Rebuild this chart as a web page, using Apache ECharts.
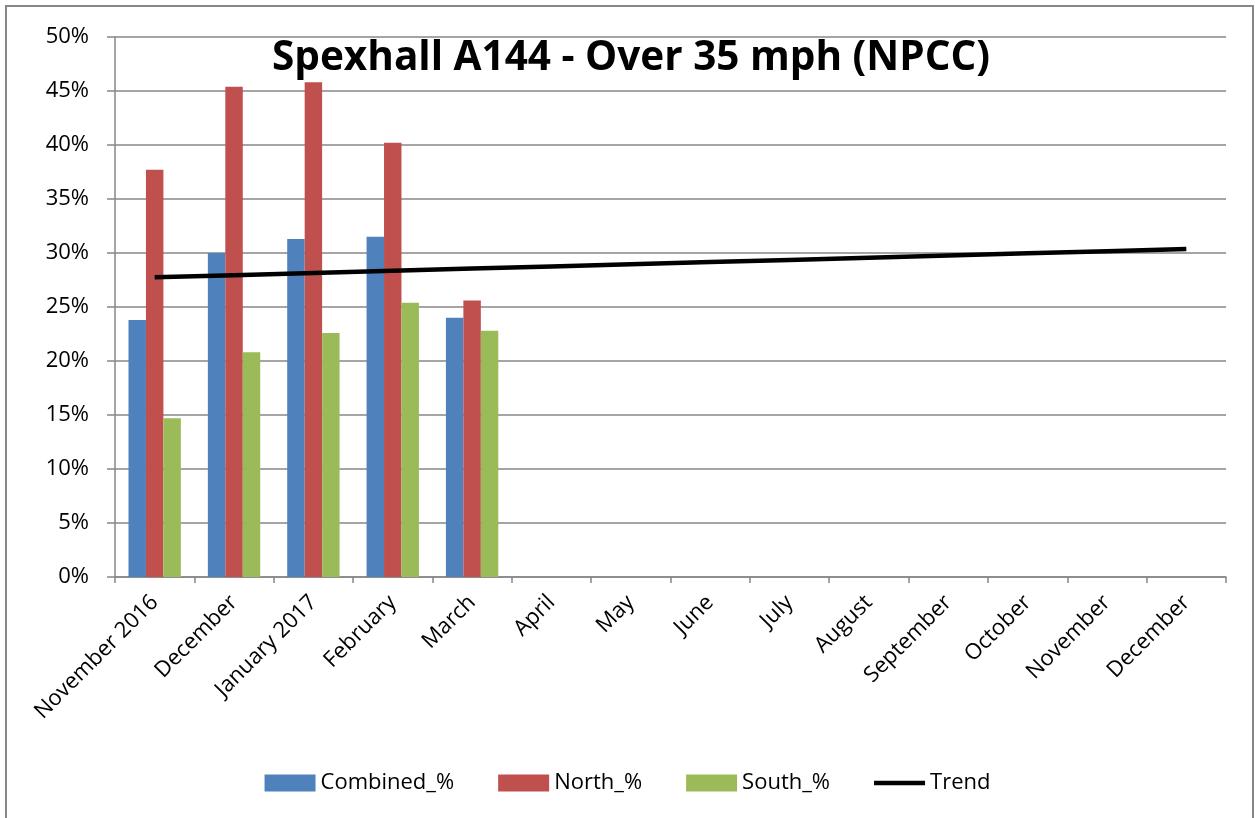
<!DOCTYPE html>
<html>
<head>
<meta charset="utf-8">
<script src="https://cdn.jsdelivr.net/npm/echarts@6/dist/echarts.min.js"></script>
<style>
  html, body { margin: 0; padding: 0; background: #fff; }
  #chart { width: 1255px; height: 818px; }
</style>
</head>
<body>
<div id="chart"></div>
<script>
const months = ['November 2016', 'December', 'January 2017', 'February', 'March', 'April', 'May',
  'June', 'July', 'August', 'September', 'October', 'November', 'December'];
const combined = [23.8, 30.0, 31.3, 31.5, 24.0, null, null, null, null, null, null, null, null, null];
const north = [37.7, 45.4, 45.8, 40.2, 25.6, null, null, null, null, null, null, null, null, null];
const south = [14.7, 20.8, 22.6, 25.4, 22.8, null, null, null, null, null, null, null, null, null];
const trend = [27.75, 27.95, 28.15, 28.36, 28.56, 28.76, 28.96, 29.16, 29.36, 29.56, 29.77, 29.97, 30.17, 30.37];

const font = 'Open Sans';
const gridColor = '#878787';

const chart = echarts.init(document.getElementById('chart'));

const barSeries = (name, data, color) => ({
  name,
  type: 'bar',
  data,
  barGap: '0%',
  barCategoryGap: '34%',
  itemStyle: { color },
  emphasis: { disabled: true },
});

chart.setOption({
  animation: false,
  title: {
    text: 'Spexhall A144 - Over 35 mph (NPCC)',
    left: 626,
    textAlign: 'center',
    top: 33,
    textStyle: { fontFamily: font, fontWeight: 'bold', fontSize: 40.5, color: '#000' },
  },
  legend: {
    top: 767,
    left: 'center',
    itemWidth: 51,
    itemHeight: 17,
    itemGap: 44,
    textStyle: { fontFamily: font, fontSize: 22, color: '#000' },
    data: [
      { name: 'Combined_%', icon: 'rect' },
      { name: 'North_%', icon: 'rect' },
      { name: 'South_%', icon: 'rect' },
      { name: 'Trend', icon: 'path://M0,0 H55 V5 H0 Z', itemStyle: { color: '#000' } },
    ],
  },
  grid: { left: 115, right: 29, top: 37, bottom: 241 },
  xAxis: {
    type: 'category',
    data: months,
    axisLine: { lineStyle: { color: gridColor, width: 1.5 } },
    axisTick: { show: true, length: 6, lineStyle: { color: gridColor, width: 1.5 } },
    axisLabel: {
      interval: 0,
      rotate: 45,
      margin: 22,
      fontFamily: font,
      fontSize: 22,
      color: '#000',
    },
  },
  yAxis: {
    type: 'value',
    min: 0,
    max: 50,
    interval: 5,
    axisLine: { show: true, lineStyle: { color: gridColor, width: 1.5 } },
    axisTick: { show: true, length: 8, lineStyle: { color: gridColor, width: 1.5 } },
    splitLine: { lineStyle: { color: gridColor, width: 1.5 } },
    axisLabel: {
      margin: 26,
      fontFamily: font,
      fontSize: 22,
      color: '#000',
      formatter: v => v + '%',
    },
  },
  series: [
    barSeries('Combined_%', combined, '#4F81BD'),
    barSeries('North_%', north, '#C0504D'),
    barSeries('South_%', south, '#9BBB59'),
    {
      name: 'Trend',
      type: 'line',
      data: trend,
      symbol: 'none',
      lineStyle: { color: '#000', width: 4.5 },
      itemStyle: { color: '#000' },
      emphasis: { disabled: true },
      z: 5,
    },
  ],
  graphic: [{
    type: 'rect',
    shape: { x: 6, y: 6, width: 1247, height: 830 },
    style: { fill: 'none', stroke: '#878787', lineWidth: 2 },
    silent: true,
  }],
});
</script>
</body>
</html>
